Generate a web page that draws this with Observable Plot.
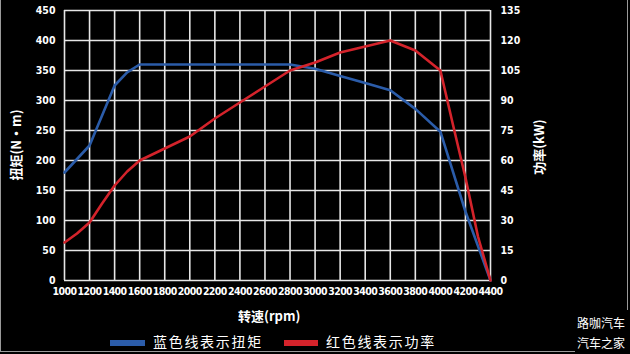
<!DOCTYPE html>
<html>
<head>
<meta charset="utf-8">
<script src="https://cdn.jsdelivr.net/npm/d3@7"></script>
<script src="https://cdn.jsdelivr.net/npm/@observablehq/plot@0.6"></script>
<style>
  html, body { margin: 0; padding: 0; background: #000; }
  #wrap { position: relative; width: 630px; height: 354px; background: #000; overflow: hidden; }
  #wrap svg { position: absolute; left: 0; top: 0; }
  .lbl { position: absolute; color: #fff; font-family: "Noto Sans CJK SC", sans-serif; white-space: nowrap; }
  .rot { transform: translate(-50%, -50%) rotate(-90deg); line-height: 1; }
  .sw { position: absolute; height: 6px; }
  .edge { position: absolute; background: #9a9a9a; }
</style>
</head>
<body>
<div id="wrap"></div>
<script>
// ---- data ----
const rpm        = [1000, 1200, 1400, 1500, 1600, 1800, 2000, 2200, 2400, 2600, 2800, 3000, 3200, 3400, 3600, 3800, 4000, 4200, 4400];
const torqueNm   = [180, 225, 325, 347, 360, 360, 360, 360, 360, 360, 360, 353, 341, 329, 317, 286, 248, 115, 0];
const powerRpm   = [1000, 1100, 1200, 1300, 1400, 1500, 1600, 1800, 2000, 2200, 2400, 2600, 2800, 3000, 3200, 3400, 3600, 3800, 4000, 4100, 4200, 4300, 4400];
const powerKW    = [19, 23.5, 29, 38.5, 47.5, 54.5, 60, 66, 72, 81, 89, 97, 105, 109, 114, 117, 120, 115, 105, 78, 51.5, 22, 0];
const xTicks     = d3.range(1000, 4401, 200);
const torqueTicks = d3.range(0, 451, 50);
const powerPerTorque = 135 / 450; // right axis 0–135 kW aligned with left 0–450 N·m

const torqueData = rpm.map((r, i) => ({rpm: r, v: torqueNm[i]}));
const powerData  = powerRpm.map((r, i) => ({rpm: r, v: powerKW[i] / powerPerTorque}));

const tickFont = "'DejaVu Sans Condensed', 'Roboto', sans-serif";
const plot = Plot.plot({
  width: 630,
  height: 354,
  marginLeft: 64,
  marginRight: 140,
  marginTop: 10,
  marginBottom: 74,
  style: {background: "#000", color: "#fff", fontFamily: tickFont, fontSize: "10.5px"},
  x: {domain: [1000, 4400]},
  y: {domain: [0, 450]},
  marks: [
    Plot.ruleX(xTicks, {stroke: "#e6e6e6", strokeWidth: 1.6}),
    Plot.ruleY(torqueTicks, {stroke: "#e6e6e6", strokeWidth: 1.6}),
    Plot.axisX(xTicks, {tickSize: 0, tickPadding: 7, fontWeight: "bold", fill: "#fff", label: null,
      tickFormat: d => String(d)}),
    Plot.axisY(torqueTicks, {anchor: "left", tickSize: 0, tickPadding: 9, fontWeight: "bold", fill: "#fff", label: null}),
    Plot.axisY(torqueTicks, {anchor: "right", tickSize: 0, tickPadding: 10, fontWeight: "bold", fill: "#fff",
      tickFormat: d => String(Math.round(d * powerPerTorque)), label: null}),
    Plot.line(torqueData, {x: "rpm", y: "v", stroke: "#2b5ca9", strokeWidth: 2.6}),
    Plot.line(powerData, {x: "rpm", y: "v", stroke: "#d4232b", strokeWidth: 2.6})
  ]
});
// tighten x tick labels
d3.select(plot).selectAll("g[aria-label='x-axis tick label'] text").style("letter-spacing", "-0.6px");

const wrap = document.getElementById("wrap");
wrap.appendChild(plot);

function addLabel(text, css, cls) {
  const d = document.createElement("div");
  d.className = "lbl" + (cls ? " " + cls : "");
  d.textContent = text;
  Object.assign(d.style, css);
  wrap.appendChild(d);
}
function addBox(cls, css) {
  const d = document.createElement("div");
  d.className = cls;
  Object.assign(d.style, css);
  wrap.appendChild(d);
}
addLabel("扭矩(N・m)", {left: "15px", top: "145px", fontSize: "13px", fontWeight: "bold"}, "rot");
addLabel("功率(kW)", {left: "538px", top: "147px", fontSize: "13px", fontWeight: "bold"}, "rot");
addLabel("转速(rpm)", {left: "238px", top: "306px", fontSize: "13px", fontWeight: "bold"});
addBox("sw", {left: "110px", top: "340px", width: "35px", background: "#2b5ca9"});
addLabel("蓝色线表示扭矩", {left: "153px", top: "331px", fontSize: "14px", letterSpacing: "1.7px"});
addBox("sw", {left: "284px", top: "340px", width: "34px", background: "#d4232b"});
addLabel("红色线表示功率", {left: "326px", top: "331px", fontSize: "14px", letterSpacing: "1.7px"});
addLabel("路咖汽车", {left: "577px", top: "314px", fontSize: "12px"});
addLabel("汽车之家", {left: "577px", top: "334px", fontSize: "12px"});
addBox("edge", {left: "0px", top: "0px", width: "1px", height: "352px"});
addBox("edge", {left: "627px", top: "0px", width: "1px", height: "310px"});
addBox("edge", {left: "0px", top: "351px", width: "575px", height: "1px"});
</script>
</body>
</html>
